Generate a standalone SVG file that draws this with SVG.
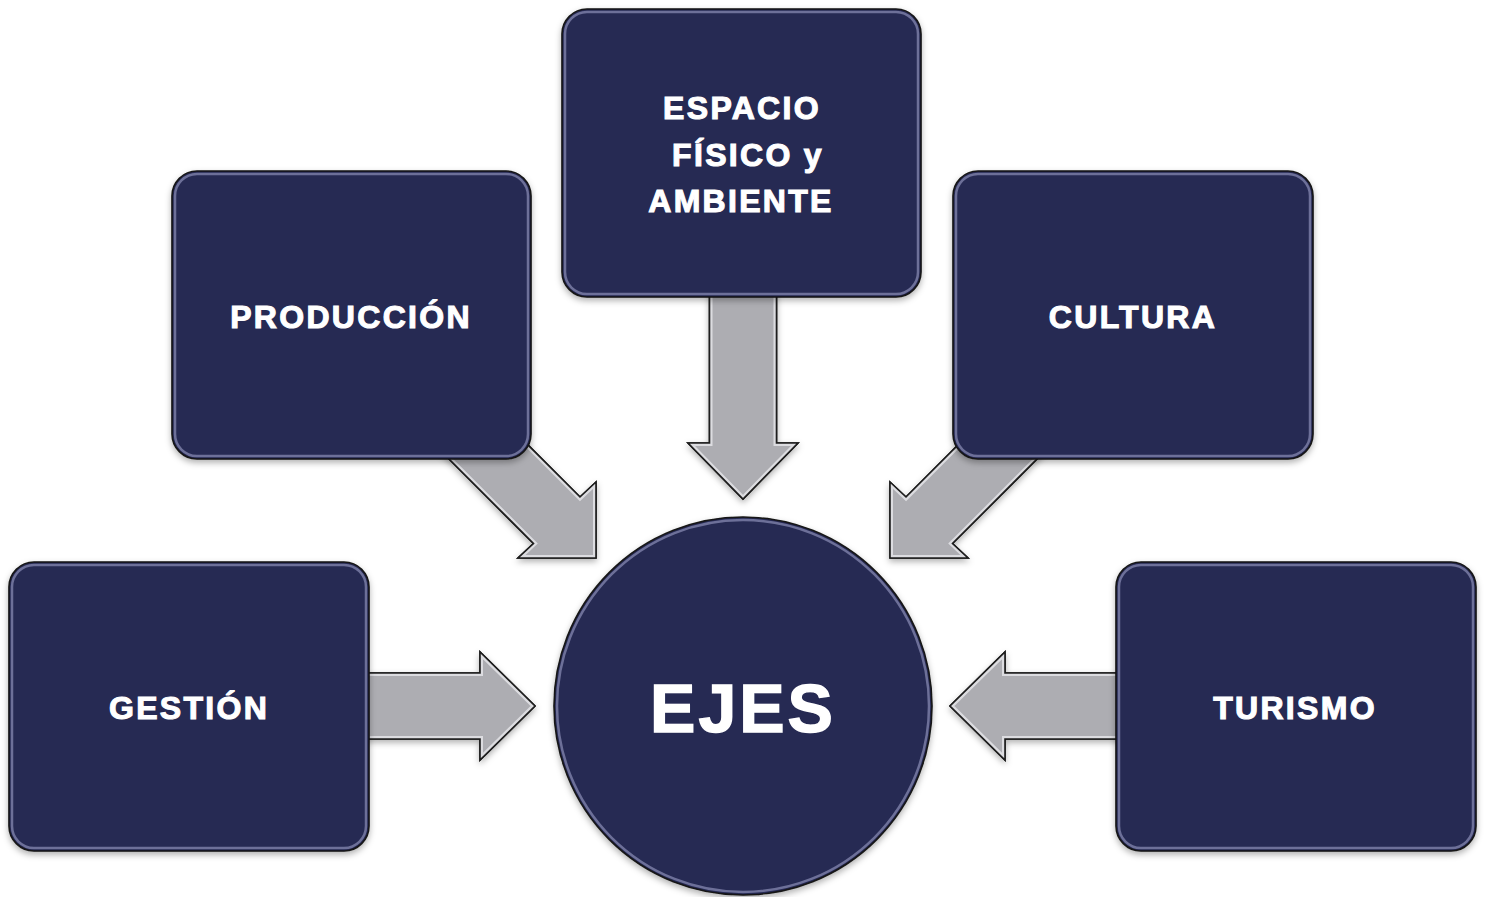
<svg xmlns="http://www.w3.org/2000/svg" width="1486" height="897" viewBox="0 0 1486 897">
<style>
.box{fill:#262953;stroke:#151515;stroke-width:1.6}
.bevel{fill:none;stroke:#8588b0;stroke-width:2.5;stroke-opacity:0.75}
.arr{fill:#adadb2;stroke:#1e1e1e;stroke-width:1.6;stroke-linejoin:miter}
.arrhi{fill:none;stroke:#dcdce0;stroke-width:6}
.lbl{fill:#ffffff;stroke:#ffffff;stroke-width:1.1;font-family:"Liberation Sans",Arial,sans-serif;font-weight:bold;font-size:32px;letter-spacing:2.3px;text-anchor:middle}
.big{font-size:68px;letter-spacing:3px;stroke-width:1.4}
</style>
<defs>
<filter id="sh" x="-10%" y="-10%" width="120%" height="125%">
<feDropShadow dx="0" dy="3" stdDeviation="3" flood-color="#000" flood-opacity="0.3"/>
</filter>
<clipPath id="cG"><polygon points="360,673 480,673 480,652 535,706 480,760 480,739 360,739"/></clipPath>
<clipPath id="cT"><polygon points="1126,673 1005,673 1005,652 950,706 1005,760 1005,739 1126,739"/></clipPath>
<clipPath id="cE"><polygon points="709.5,290 776.5,290 776.5,443 798,443 743,499 688,443 709.5,443"/></clipPath>
<clipPath id="cP"><polygon points="435,445 533.5,543.5 518,558 596,558 596,482 580,497 481.5,398.5"/></clipPath>
<clipPath id="cC"><polygon points="1051,445 952.5,543.5 968,558 890,558 890,482 906,497 1004.5,398.5"/></clipPath>
</defs>
<rect width="1486" height="897" fill="#ffffff"/>
<g id="connectors">
<g filter="url(#sh)">
<polygon class="arr" points="360,673 480,673 480,652 535,706 480,760 480,739 360,739"/>
<polygon class="arr" points="1126,673 1005,673 1005,652 950,706 1005,760 1005,739 1126,739"/>
<polygon class="arr" points="709.5,290 776.5,290 776.5,443 798,443 743,499 688,443 709.5,443"/>
<polygon class="arr" points="435,445 533.5,543.5 518,558 596,558 596,482 580,497 481.5,398.5"/>
<polygon class="arr" points="1051,445 952.5,543.5 968,558 890,558 890,482 906,497 1004.5,398.5"/>
</g>
<polygon class="arrhi" clip-path="url(#cG)" points="360,673 480,673 480,652 535,706 480,760 480,739 360,739"/>
<polygon class="arrhi" clip-path="url(#cT)" points="1126,673 1005,673 1005,652 950,706 1005,760 1005,739 1126,739"/>
<polygon class="arrhi" clip-path="url(#cE)" points="709.5,290 776.5,290 776.5,443 798,443 743,499 688,443 709.5,443"/>
<polygon class="arrhi" clip-path="url(#cP)" points="435,445 533.5,543.5 518,558 596,558 596,482 580,497 481.5,398.5"/>
<polygon class="arrhi" clip-path="url(#cC)" points="1051,445 952.5,543.5 968,558 890,558 890,482 906,497 1004.5,398.5"/>
<polygon fill="none" stroke="#1e1e1e" stroke-width="1.6" points="360,673 480,673 480,652 535,706 480,760 480,739 360,739"/>
<polygon fill="none" stroke="#1e1e1e" stroke-width="1.6" points="1126,673 1005,673 1005,652 950,706 1005,760 1005,739 1126,739"/>
<polygon fill="none" stroke="#1e1e1e" stroke-width="1.6" points="709.5,290 776.5,290 776.5,443 798,443 743,499 688,443 709.5,443"/>
<polygon fill="none" stroke="#1e1e1e" stroke-width="1.6" points="435,445 533.5,543.5 518,558 596,558 596,482 580,497 481.5,398.5"/>
<polygon fill="none" stroke="#1e1e1e" stroke-width="1.6" points="1051,445 952.5,543.5 968,558 890,558 890,482 906,497 1004.5,398.5"/>
</g>
<g id="espacio">
<rect class="box" filter="url(#sh)" x="562" y="9" width="359" height="288" rx="25"/>
<rect class="bevel" x="565" y="12" width="353" height="282" rx="22"/>
<text class="lbl" x="742" y="119">ESPACIO</text>
<text class="lbl" x="748" y="166">FÍSICO y</text>
<text class="lbl" x="741" y="212">AMBIENTE</text>
</g>
<g id="produccion">
<rect class="box" filter="url(#sh)" x="172" y="171" width="359" height="288" rx="25"/>
<rect class="bevel" x="175" y="174" width="353" height="282" rx="22"/>
<text class="lbl" x="351" y="328">PRODUCCIÓN</text>
</g>
<g id="cultura">
<rect class="box" filter="url(#sh)" x="953" y="171" width="360" height="288" rx="25"/>
<rect class="bevel" x="956" y="174" width="354" height="282" rx="22"/>
<text class="lbl" x="1133" y="328">CULTURA</text>
</g>
<g id="gestion">
<rect class="box" filter="url(#sh)" x="9" y="562" width="360" height="289" rx="25"/>
<rect class="bevel" x="12" y="565" width="354" height="283" rx="22"/>
<text class="lbl" x="189" y="719">GESTIÓN</text>
</g>
<g id="turismo">
<rect class="box" filter="url(#sh)" x="1116" y="562" width="360" height="289" rx="25"/>
<rect class="bevel" x="1119" y="565" width="354" height="283" rx="22"/>
<text class="lbl" x="1295" y="719">TURISMO</text>
</g>
<g id="ejes">
<circle class="box" filter="url(#sh)" cx="743" cy="706" r="189"/>
<circle class="bevel" cx="743" cy="706" r="186"/>
<text class="lbl big" x="743" y="732">EJES</text>
</g>
</svg>
